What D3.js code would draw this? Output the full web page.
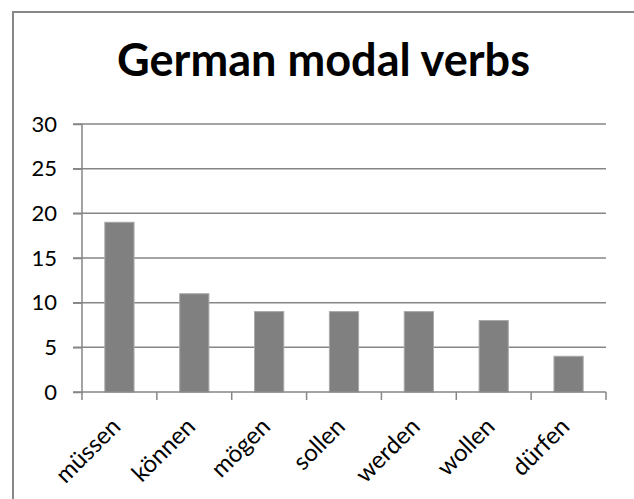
<!DOCTYPE html>
<html><head><meta charset="utf-8">
<script src="https://cdn.jsdelivr.net/npm/d3@7"></script>
<style>body{margin:0;background:#fff}</style>
</head><body>
<script>
const categories = ["müssen","können","mögen","sollen","werden","wollen","dürfen"];
const values = [19, 11, 9, 9, 9, 8, 4];
const yTicks = [0,5,10,15,20,25,30];
const title = "German modal verbs";

const W = 634, H = 499;
const svg = d3.select("body").append("svg").attr("width", W).attr("height", H);
const font = "Lato, 'Open Sans', sans-serif";

svg.append("rect").attr("x",13).attr("y",12).attr("width",W).attr("height",H)
  .attr("fill","#fff").attr("stroke","#888").attr("stroke-width",2);

const x = d3.scaleBand().domain(categories).range([82,606]).paddingInner(0.61).paddingOuter(0.305);
const y = d3.scaleLinear().domain([0,30]).range([392,124]);

// gridlines
svg.append("g").selectAll("line").data(yTicks.filter(d=>d>0)).join("line")
  .attr("x1",73).attr("x2",606).attr("y1",d=>y(d)).attr("y2",d=>y(d))
  .attr("stroke","#868686").attr("stroke-width",1.5);

// bars
svg.append("g").selectAll("rect").data(values).join("rect")
  .attr("x",(d,i)=>x(categories[i])).attr("width",x.bandwidth())
  .attr("y",d=>y(d)).attr("height",d=>y(0)-y(d))
  .attr("fill","#808080").attr("stroke","#a8a8a8").attr("stroke-width",1);

// y axis
const ya = svg.append("g").attr("transform","translate(82,0)")
  .call(d3.axisLeft(y).tickValues(yTicks).tickSize(9).tickPadding(16));
ya.select(".domain").attr("stroke","#868686").attr("stroke-width",1.5).attr("d","M0,"+y(30)+"V"+(y(0)+1));
ya.selectAll(".tick line").attr("stroke","#868686").attr("stroke-width",1.5);
ya.selectAll("text").attr("font-family",font).attr("font-size",22).attr("fill","#000");

// x axis
const step = x.step();
const bounds = d3.range(categories.length+1).map(i=>82 + i*step);
const xa = svg.append("g");
xa.append("line").attr("x1",73).attr("x2",606).attr("y1",y(0)).attr("y2",y(0))
  .attr("stroke","#868686").attr("stroke-width",1.5);
xa.selectAll("line.t").data(bounds).join("line").attr("class","t")
  .attr("x1",d=>d).attr("x2",d=>d).attr("y1",y(0)).attr("y2",y(0)+8)
  .attr("stroke","#868686").attr("stroke-width",1.5);
xa.selectAll("text").data(categories).join("text")
  .attr("transform",d=>`translate(${x(d)+x.bandwidth()/2+2.5},${y(0)+36}) rotate(-45)`)
  .attr("text-anchor","end")
  .attr("font-family",font).attr("font-size",24).attr("fill","#000").text(d=>d);

// title
const t = svg.append("text").attr("x",323.5).attr("y",76).attr("text-anchor","middle")
  .attr("font-family",font).attr("font-weight","bold").attr("font-size",36).attr("fill","#000").text(title);
const w = t.node().getComputedTextLength();
t.attr("font-size", 36*413/w);
</script>
</body></html>
